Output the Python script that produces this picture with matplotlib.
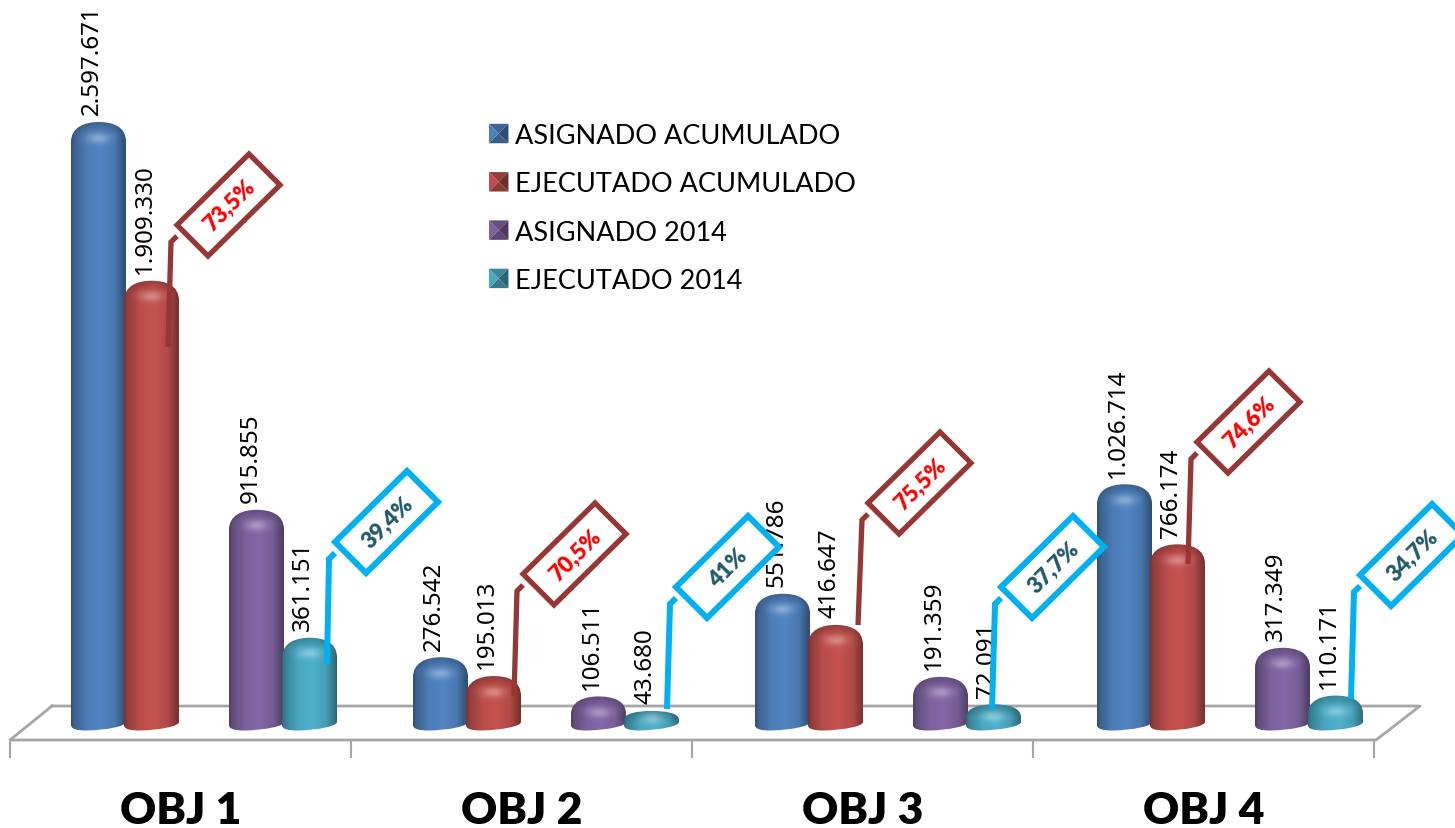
import numpy as np
import matplotlib
matplotlib.use("Agg")
import matplotlib.pyplot as plt
from matplotlib.patches import PathPatch, Polygon, Patch
from matplotlib.path import Path
from matplotlib.transforms import Affine2D
from matplotlib.legend_handler import HandlerBase
from matplotlib.colors import to_rgb

plt.rcParams['font.family'] = ['Lato', 'DejaVu Sans']

categories = ["OBJ 1", "OBJ 2", "OBJ 3", "OBJ 4"]
asignado_acum = [2597671, 276542, 551786, 1026714]
ejecutado_acum = [1909330, 195013, 416647, 766174]
asignado_2014 = [915855, 106511, 191359, 317349]
ejecutado_2014 = [361151, 43680, 72091, 110171]
series_names = ["ASIGNADO ACUMULADO", "EJECUTADO ACUMULADO", "ASIGNADO 2014", "EJECUTADO 2014"]
pct_acum = ["73,5%", "70,5%", "75,5%", "74,6%"]
pct_2014 = ["39,4%", "41%", "37,7%", "34,7%"]

# layout, in picture pixels
W, H = 1455, 829
BASE_PX = 722
PX_PER_VALUE = 599 / 2597671
GROUP_PX = 342
TICK_PX = 341
GROUP0_PX = 181
BAR_PX = 55
offsets = [-0.2412, -0.0863, 0.2208, 0.3757]
colors = ["#4F81BD", "#C0504D", "#8064A2", "#4BACC6"]

# left corner of each callout box and lower end of its leader
box_acum = [(177, 226), (523, 575), (868, 504), (1197, 443)]
tip_acum = [(168, 348), (514, 697), (858, 626), (1188, 565)]
box_2014 = [(335, 543), (676, 588), (1001, 588), (1360, 576)]
tip_2014 = [(327, 665), (667, 710), (992, 710), (1351, 700)]

fig = plt.figure(figsize=(W / 100, H / 100), dpi=100)
ax = fig.add_axes([0, 0, 1, 1])
pix = Affine2D().scale(1, -1).translate(0, H)  # y down, picture pixels


def bar_path(x0, x1, top):
    # all sizes in px, converted to data units here
    dx = 1 / GROUP_PX
    dy = 1 / PX_PER_VALUE
    h = top * PX_PER_VALUE
    xc = (x0 + x1) / 2
    sh = min(20, h * 0.6 + 3)
    verts = [
        (x0, top - sh * dy),
        (x0, top - sh * 0.25 * dy), (x0 + 14 * dx, top), (xc, top),
        (x1 - 14 * dx, top), (x1, top - sh * 0.2 * dy), (x1, top - sh * dy),
        (x1, -1 * dy),
        (x1, -5 * dy), (x1 - 18 * dx, -9 * dy), (x0 + 16 * dx, -9.5 * dy),
        (x0 + 6 * dx, -9.6 * dy), (x0, -8 * dy), (x0, -4 * dy),
        (x0, top - sh * dy),
    ]
    codes = [Path.MOVETO, Path.CURVE4, Path.CURVE4, Path.CURVE4, Path.CURVE4, Path.CURVE4, Path.CURVE4,
             Path.LINETO, Path.CURVE4, Path.CURVE4, Path.CURVE4, Path.CURVE4, Path.CURVE4, Path.CURVE4,
             Path.CLOSEPOLY]
    return Path(verts, codes)


def draw_bar(x, value, color, z):
    w = BAR_PX / GROUP_PX
    x0, x1 = x - w / 2, x + w / 2
    bottom = -12 / PX_PER_VALUE
    top = value + 2 / PX_PER_VALUE
    rows = max(int((top - bottom) * PX_PER_VALUE), 2)
    u = np.linspace(0, 1, 110)
    v = np.linspace(0, rows, rows * 2)
    uu, vv = np.meshgrid(u, v)
    h = value * PX_PER_VALUE

    shade = np.interp(uu, [0, .06, .3, .55, .8, .95, 1], [.62, .76, .97, 1.03, .92, .68, .6])
    shade = shade * np.interp(vv, [0, 6, 14], [.72, .84, 1])
    rgb = np.array(to_rgb(color))
    img = np.clip(shade[..., None] * rgb, 0, 1)
    glow = 0.32 * np.exp(-((uu - .5) / .2) ** 2 - ((vv - min(18, h * .6 + 4)) / 5) ** 2)
    img = img + (1 - img) * glow[..., None]

    im = ax.imshow(img, extent=(x0, x1, bottom, top), aspect='auto', origin='upper',
                   interpolation='bilinear', zorder=z)
    patch = PathPatch(bar_path(x0, x1, value), transform=ax.transData, facecolor='none', edgecolor='none')
    ax.add_patch(patch)
    im.set_clip_path(patch)


class BevelHandler(HandlerBase):
    def create_artists(self, legend, orig, xd, yd, width, height, fontsize, trans):
        c = np.array(to_rgb(orig.get_facecolor()))
        s = 14
        x0, y0 = 0, (height - s) / 2
        cx, cy = x0 + s / 2, y0 + s / 2
        a, b, d, e = (x0, y0), (x0 + s, y0), (x0 + s, y0 + s), (x0, y0 + s)
        faces = [((e, d), .78), ((d, b), .58), ((b, a), .72), ((a, e), .98)]
        return [Polygon([p, q, (cx, cy)], closed=True, facecolor=c * f, edgecolor='none', transform=trans)
                for (p, q), f in faces]


# floor
floor = "#A6A6A6"
ax.plot([52, 1420, 1376, 10, 52], [707, 707, 741, 741, 707], color=floor, lw=2, transform=pix, zorder=1)
for i in range(len(categories) + 1):
    tx = 10 + i * TICK_PX
    ax.plot([tx, tx], [741, 758], color=floor, lw=1.5, transform=pix, zorder=1)

all_series = [asignado_acum, ejecutado_acum, asignado_2014, ejecutado_2014]
for s, values in enumerate(all_series):
    for g, val in enumerate(values):
        x = g + offsets[s]
        draw_bar(x, val, colors[s], 3 + s * 0.1)
        label = f"{val:,}".replace(",", ".")
        ax.annotate(label, (x, val), xytext=(-4.5, 5.5), textcoords='offset points', rotation=90,
                    ha='center', va='bottom', fontsize=17.4, color='black', zorder=5,
                    family=['Noto Sans', 'DejaVu Sans'])

for g, cat in enumerate(categories):
    ax.text(GROUP0_PX + g * TICK_PX, 811, cat, ha='center', va='center', transform=pix,
            fontsize=32, fontweight='heavy', color='black')


def callout(corner, tip, text, edge, txt_color, lw):
    lx, ly = corner
    ax.plot([tip[0], lx - 6, lx], [tip[1], ly + 17, ly + 11], color=edge, lw=lw, transform=pix,
            solid_joinstyle='miter', solid_capstyle='butt', zorder=6)
    pts = [(lx, ly), (lx + 72, ly - 71), (lx + 103, ly - 40), (lx + 31, ly + 31)]
    ax.add_patch(Polygon(pts, closed=True, facecolor='white', edgecolor=edge, lw=lw, transform=pix,
                         joinstyle='miter', zorder=7))
    ax.text(lx + 52.5, ly - 19.5, text, rotation=45, ha='center', va='center', rotation_mode='anchor',
            fontsize=16, fontweight='heavy', color=txt_color, transform=pix, zorder=8)


for g in range(len(categories)):
    callout(box_acum[g], tip_acum[g], pct_acum[g], "#953735", "#FF0000", 3.8)
    callout(box_2014[g], tip_2014[g], pct_2014[g], "#00B0F0", "#215968", 4.3)

handles = [Patch(facecolor=c, label=n) for c, n in zip(colors, series_names)]
ax.legend(handles=handles, handler_map={Patch: BevelHandler()}, loc='upper left',
          bbox_to_anchor=(489, 124), bbox_transform=pix, frameon=False, fontsize=19.5,
          labelspacing=0.86, handlelength=0.95, handletextpad=0.0, borderpad=0, borderaxespad=0)

ax.set_xlim(-GROUP0_PX / GROUP_PX, (W - GROUP0_PX) / GROUP_PX)
ax.set_ylim((BASE_PX - H) / PX_PER_VALUE, BASE_PX / PX_PER_VALUE)
ax.axis('off')

fig.savefig("out.png", dpi=100)
